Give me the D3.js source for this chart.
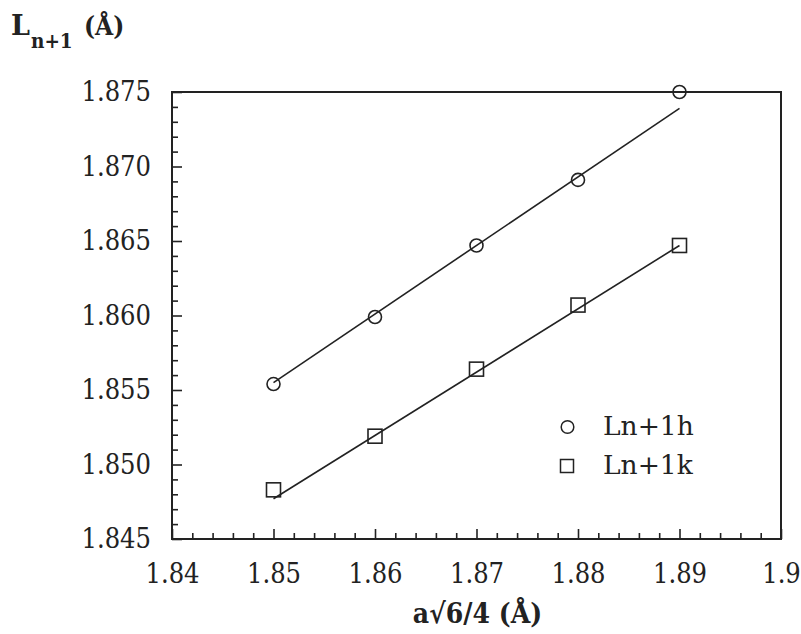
<!DOCTYPE html>
<html>
<head>
<meta charset="utf-8">
<script src="https://cdn.jsdelivr.net/npm/d3@7"></script>
<style>
  html, body { margin: 0; padding: 0; background: #fff; }
  svg { display: block; }
</style>
</head>
<body>
<svg id="chart" width="801" height="634"></svg>
<script>
// ---- data ----
const xValues = [1.85, 1.86, 1.87, 1.88, 1.89];
const seriesH = [1.8554, 1.8599, 1.8647, 1.8691, 1.8750];   // Ln+1h (circles)
const seriesK = [1.8483, 1.8519, 1.8564, 1.8607, 1.8647];   // Ln+1k (squares)
const fitHx = [1.85, 1.89];
const fitHy = [1.8555, 1.8739];
const fitKx = [1.85, 1.89];
const fitKy = [1.8477, 1.8647];
const xTicks = [1.84, 1.85, 1.86, 1.87, 1.88, 1.89, 1.9];
const xTickLabels = ["1.84", "1.85", "1.86", "1.87", "1.88", "1.89", "1.9"];
const yTicks = [1.845, 1.850, 1.855, 1.860, 1.865, 1.870, 1.875];
const yTickLabels = ["1.845", "1.850", "1.855", "1.860", "1.865", "1.870", "1.875"];
const legendLabels = ["Ln+1h", "Ln+1k"];

// ---- layout ----
const mLeft = 172, mRight = 781, mTop = 92, mBottom = 539;
const svg = d3.select("#chart");
const serif = "'DejaVu Serif', serif";
const ink = "#222";

const x = d3.scaleLinear().domain([1.84, 1.9]).range([mLeft, mRight]);
const y = d3.scaleLinear().domain([1.845, 1.875]).range([mBottom, mTop]);

// minor ticks
const xMinor = d3.range(0, 31).map(i => 1.84 + i * 0.002).filter((v, i) => i % 5 !== 0);
const yMinor = d3.range(0, 31).map(i => 1.845 + i * 0.001).filter((v, i) => i % 5 !== 0);

// bottom axis
const gxMinor = svg.append("g").attr("transform", `translate(0,${mBottom})`)
  .call(d3.axisBottom(x).tickValues(xMinor).tickSize(-6).tickFormat(""));
const gx = svg.append("g").attr("transform", `translate(0,${mBottom})`)
  .call(d3.axisBottom(x).tickValues(xTicks).tickSize(-10).tickPadding(25)
    .tickFormat((d, i) => xTickLabels[i]));
// left axis
const gyMinor = svg.append("g").attr("transform", `translate(${mLeft},0)`)
  .call(d3.axisLeft(y).tickValues(yMinor).tickSize(-6).tickFormat(""));
const gy = svg.append("g").attr("transform", `translate(${mLeft},0)`)
  .call(d3.axisLeft(y).tickValues(yTicks).tickSize(-10).tickPadding(21)
    .tickFormat((d, i) => yTickLabels[i]));

[gxMinor, gx, gyMinor, gy].forEach(g => {
  g.select(".domain").remove();
  g.selectAll(".tick line").attr("stroke", ink).attr("stroke-width", 1.6);
  g.selectAll(".tick text").attr("fill", ink).style("font-family", serif)
    .style("font-size", "27px").style("font-stretch", "condensed");
});

// frame
svg.append("rect").attr("x", mLeft).attr("y", mTop)
  .attr("width", mRight - mLeft).attr("height", mBottom - mTop)
  .attr("fill", "none").attr("stroke", ink).attr("stroke-width", 2);

// fit lines
const line = d3.line().x(d => x(d[0])).y(d => y(d[1]));
svg.append("path").datum(fitHx.map((v, i) => [v, fitHy[i]]))
  .attr("d", line).attr("fill", "none").attr("stroke", ink).attr("stroke-width", 1.6);
svg.append("path").datum(fitKx.map((v, i) => [v, fitKy[i]]))
  .attr("d", line).attr("fill", "none").attr("stroke", ink).attr("stroke-width", 1.6);

// markers
svg.append("g").selectAll("circle").data(xValues).join("circle")
  .attr("cx", d => x(d)).attr("cy", (d, i) => y(seriesH[i])).attr("r", 6.5)
  .attr("fill", "none").attr("stroke", ink).attr("stroke-width", 1.6);
const sq = 14;
svg.append("g").selectAll("rect").data(xValues).join("rect")
  .attr("x", d => x(d) - sq / 2).attr("y", (d, i) => y(seriesK[i]) - sq / 2)
  .attr("width", sq).attr("height", sq)
  .attr("fill", "none").attr("stroke", ink).attr("stroke-width", 1.6);

// legend
const lg = svg.append("g");
lg.append("circle").attr("cx", 567.5).attr("cy", 427).attr("r", 6.3)
  .attr("fill", "none").attr("stroke", ink).attr("stroke-width", 1.5);
lg.append("rect").attr("x", 560.5).attr("y", 459.5).attr("width", 13).attr("height", 13)
  .attr("fill", "none").attr("stroke", ink).attr("stroke-width", 1.5);
lg.selectAll("text").data(legendLabels).join("text")
  .attr("x", 603).attr("y", (d, i) => 435 + i * 39)
  .attr("fill", ink).style("font-family", serif).style("font-size", "26.5px")
  .text(d => d);

// axis titles
svg.append("text").attr("x", (mLeft + mRight) / 2 + 1).attr("y", 623)
  .attr("text-anchor", "middle").attr("fill", ink)
  .style("font-family", serif).style("font-size", "28px").style("font-weight", "bold")
  .style("font-stretch", "condensed")
  .text("a\u221A6/4 (\u00C5)");

const yt = svg.append("g").attr("fill", ink).style("font-family", serif).style("font-weight", "bold");
yt.append("text").attr("x", 11).attr("y", 35).style("font-size", "27px").text("L");
yt.append("text").attr("x", 31).attr("y", 48).style("font-size", "20.5px").style("font-stretch", "condensed").text("n+1");
yt.append("text").attr("x", 84).attr("y", 35).style("font-size", "26px").style("font-stretch", "condensed").text("(\u00C5)");
</script>
</body>
</html>
